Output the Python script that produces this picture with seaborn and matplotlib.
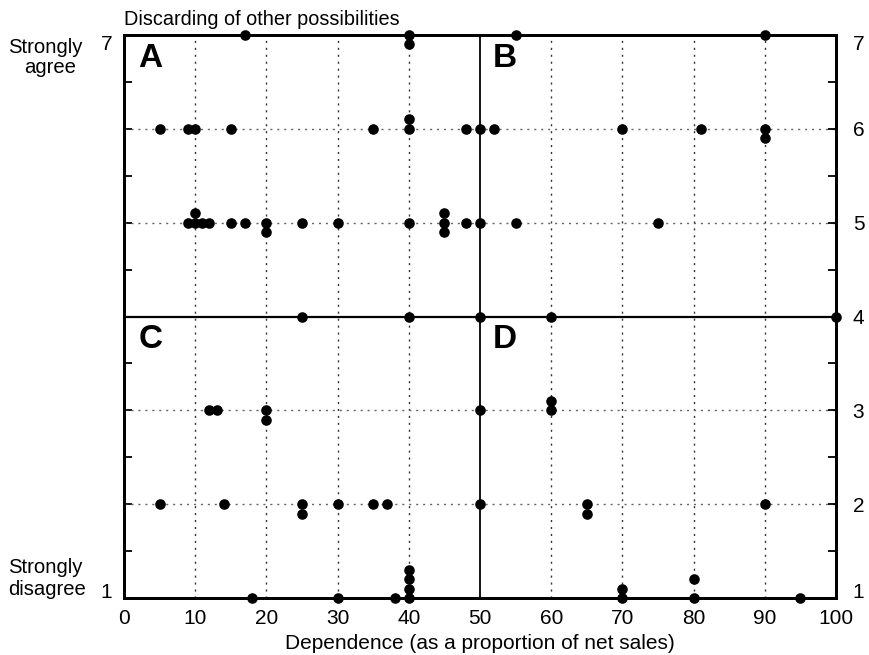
import numpy as np
import pandas as pd
import matplotlib
matplotlib.use("Agg")
import matplotlib.pyplot as plt
import seaborn as sns
from matplotlib.ticker import MultipleLocator

sns.set_style("white")
plt.rcParams['font.family'] = ['Liberation Sans', 'DejaVu Sans']
plt.rcParams['text.color'] = 'black'
plt.rcParams['axes.labelcolor'] = 'black'
plt.rcParams['xtick.color'] = 'black'
plt.rcParams['ytick.color'] = 'black'

# Dependence (% of net sales) and agreement score (1-7, small offsets for stacked points)
dependence = [17, 40, 55, 90, 40,
              5, 9, 10, 15, 35, 40, 48, 50, 52, 70, 81, 90, 40, 90,
              9, 10, 11, 12, 15, 17, 20, 25, 30, 40, 45, 48, 50, 55, 75, 10, 45, 20, 45,
              25, 40, 50, 60, 100,
              12, 13, 20, 50, 60, 60, 20,
              5, 14, 25, 30, 35, 37, 50, 65, 90, 25, 65,
              18, 30, 38, 40, 70, 80, 95, 40, 70, 40, 80, 40]
agreement = [7, 7, 7, 7, 6.9,
             6, 6, 6, 6, 6, 6, 6, 6, 6, 6, 6, 6, 6.1, 5.9,
             5, 5, 5, 5, 5, 5, 5, 5, 5, 5, 5, 5, 5, 5, 5, 5.1, 5.1, 4.9, 4.9,
             4, 4, 4, 4, 4,
             3, 3, 3, 3, 3, 3.1, 2.9,
             2, 2, 2, 2, 2, 2, 2, 2, 2, 1.9, 1.9,
             1, 1, 1, 1, 1, 1, 1, 1.1, 1.1, 1.2, 1.2, 1.3]

x_ticks = [0, 10, 20, 30, 40, 50, 60, 70, 80, 90, 100]
y_ticks = [1, 2, 3, 4, 5, 6, 7]
quadrants = ["A", "B", "C", "D"]

df = pd.DataFrame({"dep": dependence, "agr": agreement})

W, H = 869, 655
fig = plt.figure(figsize=(W / 100, H / 100), dpi=100)
ax = fig.add_axes([124 / W, 1 - 598 / H, (836 - 124) / W, (598 - 35) / H])

FS = 15
dot = (0, (1.5, 3.5))
for xv in [10, 20, 30, 40, 60, 70, 80, 90]:
    ax.axvline(xv, color="#333333", lw=1.0, ls=dot, zorder=1)
for yv in [2, 3, 5, 6]:
    ax.axhline(yv, color="#666666", lw=1.0, ls=dot, zorder=1)
ax.axvline(50, color="black", lw=1.3, zorder=1.5)
ax.axhline(4, color="black", lw=1.6, zorder=1.5)

sns.scatterplot(data=df, x="dep", y="agr", ax=ax, color="black", s=58,
                edgecolor="black", linewidth=0, zorder=5, clip_on=False, legend=False)

ax.set_xlim(0, 100)
ax.set_ylim(1, 7)
ax.set_xticks(x_ticks)
ax.set_xticklabels([str(v) for v in x_ticks], fontsize=FS)
ax.xaxis.set_minor_locator(MultipleLocator(5))
ax.tick_params(axis="x", which="major", direction="in", length=13, width=1.3, pad=8)
ax.tick_params(axis="x", which="minor", direction="in", length=5, width=1.3)
ax.tick_params(axis="x", top=False, which="both")

ax.set_yticks(y_ticks)
ax.set_yticklabels(["1", "", "", "", "", "", "7"], fontsize=FS)
ax.yaxis.set_minor_locator(MultipleLocator(0.5))
ax.tick_params(axis="y", which="both", direction="in", length=6, width=1.3, pad=8.5)

ax2 = ax.twinx()
ax2.set_ylim(1, 7)
ax2.set_yticks(y_ticks)
ax2.set_yticklabels([str(v) for v in y_ticks], fontsize=FS)
ax2.yaxis.set_minor_locator(MultipleLocator(0.5))
ax2.tick_params(axis="y", which="both", direction="in", length=6, width=1.3, pad=12)

# end labels sit inside the axis range, as in the reference
for a in (ax, ax2):
    labs = a.get_yticklabels()
    labs[0].set_va("baseline")
    labs[-1].set_va("top")
    for s in a.spines.values():
        s.set_linewidth(2.0)
        s.set_color("black")

ax.set_xlabel("Dependence (as a proportion of net sales)", fontsize=FS, labelpad=4)
ax.set_ylabel("")

qpos = [(2, 6.75), (51.8, 6.75), (2, 3.75), (51.8, 3.75)]
for q, (qx, qy) in zip(quadrants, qpos):
    ax.text(qx, qy, q, fontsize=24, fontweight="bold", color="black",
            ha="left", va="center", zorder=6)

fig.text(124 / W, 1 - 25 / H, "Discarding of other possibilities", fontsize=14.3,
         ha="left", va="baseline")
fig.text(45 / W, 1 - 53 / H, "Strongly", fontsize=14.6, ha="center", va="baseline")
fig.text(50 / W, 1 - 73 / H, "agree", fontsize=14.6, ha="center", va="baseline")
fig.text(8 / W, 1 - 573 / H, "Strongly", fontsize=14.6, ha="left", va="baseline")
fig.text(8 / W, 1 - 595 / H, "disagree", fontsize=14.6, ha="left", va="baseline")

fig.savefig("out.png", dpi=100)
